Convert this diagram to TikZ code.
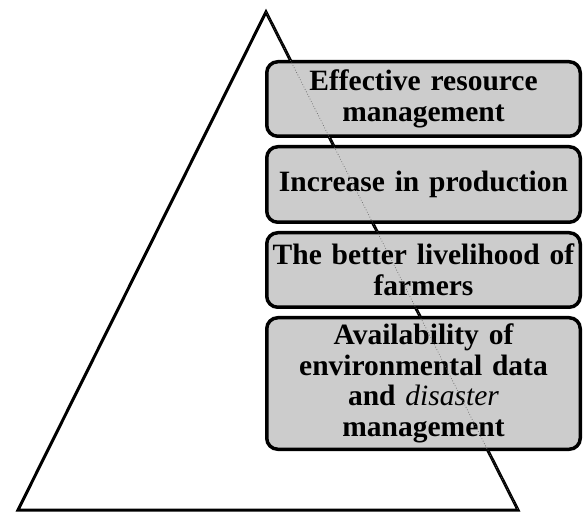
\documentclass[tikz,border=0pt]{standalone}
\usepackage{fontspec}
\setmainfont{Liberation Serif}
\usetikzlibrary{positioning}

\tikzset{
	levelbox/.style={draw=black, fill=black!20, line width=3.5pt, rounded corners=11pt,
		minimum width=313.5pt, text width=308pt, align=center,
		font=\fontsize{29.5}{30.5}\selectfont\bfseries, inner sep=0pt},
}

\begin{document}
\begin{tikzpicture}[x=1pt, y=1pt,
			node distance=7pt,
			thick]
			
			\useasboundingbox (0,0) rectangle (584,512);
			
			% pyramid
			\coordinate (top) at (266,500);
			\coordinate (left) at (18,2);
			\coordinate (right) at (518,2);
			\draw[line width=3pt, line join=miter] (left) -- (top) -- (right) -- cycle;
			
			% levels
			\node[levelbox, minimum height=74.5pt] (effective) at (423.5,413) {Effective resource\\management};
			\node[levelbox, minimum height=75.5pt, below=of effective] (production) {Increase in production};
			\node[levelbox, minimum height=74.5pt, below=of production] (livelihood) {The better livelihood of\\farmers};
			\node[levelbox, minimum height=131.5pt, below=of livelihood] (availability) {Availability of\\environmental data\\and {\normalfont\itshape disaster\/}\\management};
			
			% edge seen through the boxes
			\draw[black!60, line width=0.7pt, dotted] (top) -- (right);
		\end{tikzpicture}
\end{document}
